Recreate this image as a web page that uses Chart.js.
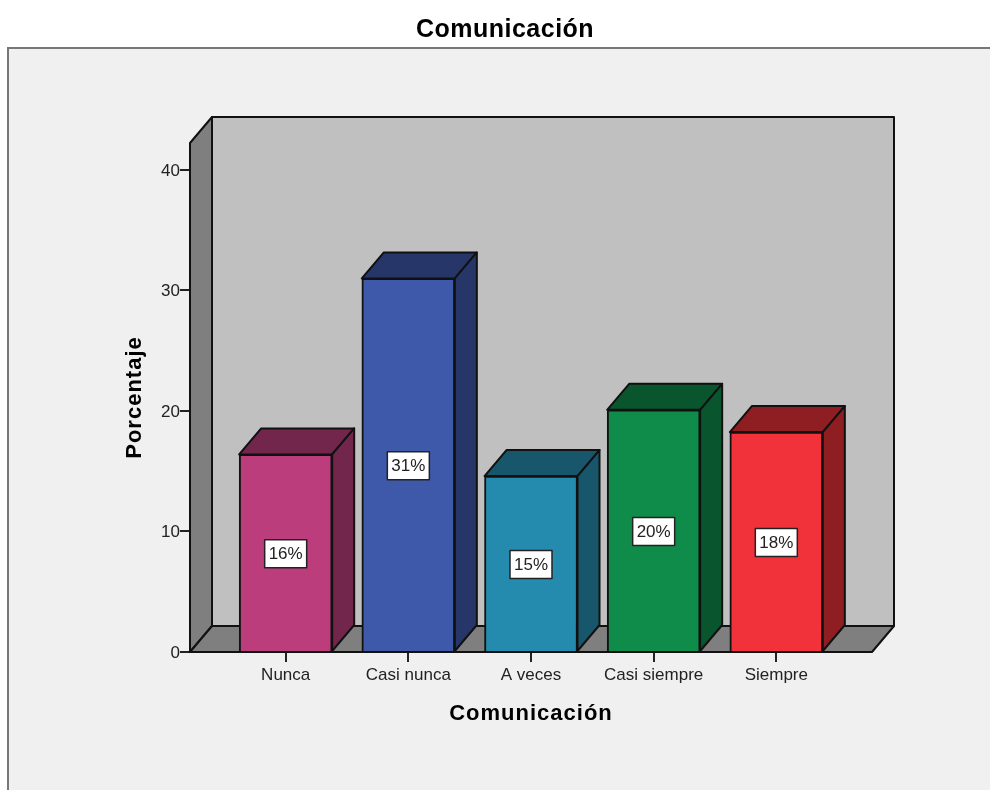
<!DOCTYPE html>
<html>
<head>
<meta charset="utf-8">
<style>
  html, body { margin: 0; padding: 0; background: #fff; }
  canvas { display: block; }
</style>
<script src="https://cdn.jsdelivr.net/npm/chart.js@4"></script>
</head>
<body>
<canvas id="chart" width="990" height="790"></canvas>
<script>
const categories = ['Nunca', 'Casi nunca', 'A veces', 'Casi siempre', 'Siempre']
const percentages = [16.4, 31.0, 14.6, 20.1, 18.25]
const barLabels = ['16%', '31%', '15%', '20%', '18%']
const yTicks = [0, 10, 20, 30, 40]
const frontColors = ['#bb3d7c', '#3e58aa', '#248bae', '#0f8c4a', '#f2323a']
const shadeColors = ['#72264c', '#263669', '#17566b', '#09562e', '#8f1e23']

const DEPTH_X = 22
const DEPTH_Y = -26

function poly(ctx, pts, fill) {
  ctx.beginPath()
  pts.forEach((p, i) => (i ? ctx.lineTo(p[0], p[1]) : ctx.moveTo(p[0], p[1])))
  ctx.closePath()
  ctx.fillStyle = fill
  ctx.fill()
  ctx.stroke()
}

// the reference titles are slightly letter-spaced, Chart.js has no option for it
function spaced(ctx, obj, method, spacing) {
  const draw = obj[method]
  obj[method] = function (...args) {
    ctx.letterSpacing = spacing
    draw.apply(this, args)
    ctx.letterSpacing = '0px'
  }
}

// SPSS style box behind the bars, and the panel behind everything
const boxPlugin = {
  id: 'box',
  afterLayout(chart) {
    chart.titleBlock.left += 8
    chart.titleBlock.right += 8
    spaced(chart.ctx, chart.titleBlock, 'draw', '0.5px')
    spaced(chart.ctx, chart.scales.x, 'drawTitle', '1px')
    spaced(chart.ctx, chart.scales.y, 'drawTitle', '1px')
  },
  beforeDraw(chart) {
    const { ctx, width, height } = chart
    ctx.save()
    ctx.fillStyle = '#f0f0f0'
    ctx.fillRect(8, 48, width - 8, height - 48)
    ctx.strokeStyle = '#777'
    ctx.lineWidth = 2
    ctx.beginPath()
    ctx.moveTo(8, height)
    ctx.lineTo(8, 48)
    ctx.lineTo(width, 48)
    ctx.stroke()
    ctx.restore()
  },
  beforeDatasetsDraw(chart) {
    const { ctx, chartArea: a } = chart
    const dx = DEPTH_X, dy = DEPTH_Y
    ctx.save()
    ctx.strokeStyle = '#111'
    ctx.lineWidth = 2
    ctx.lineJoin = 'round'
    poly(ctx, [[a.left + dx, a.top + dy], [a.right + dx, a.top + dy], [a.right + dx, a.bottom + dy], [a.left + dx, a.bottom + dy]], '#c0c0c0')
    poly(ctx, [[a.left, a.top], [a.left + dx, a.top + dy], [a.left + dx, a.bottom + dy], [a.left, a.bottom]], '#7f7f7f')
    poly(ctx, [[a.left, a.bottom], [a.left + dx, a.bottom + dy], [a.right + dx, a.bottom + dy], [a.right, a.bottom]], '#7f7f7f')
    ctx.restore()
  },
  afterDatasetsDraw(chart) {
    const { ctx } = chart
    const dx = DEPTH_X, dy = DEPTH_Y
    const bars = chart.getDatasetMeta(0).data
    ctx.save()
    ctx.strokeStyle = '#111'
    ctx.lineWidth = 2
    ctx.lineJoin = 'round'
    bars.forEach((bar, i) => {
      const l = bar.x - bar.width / 2, r = bar.x + bar.width / 2
      poly(ctx, [[l, bar.y], [l + dx, bar.y + dy], [r + dx, bar.y + dy], [r, bar.y]], shadeColors[i])
      poly(ctx, [[r, bar.y], [r + dx, bar.y + dy], [r + dx, bar.base + dy], [r, bar.base]], shadeColors[i])
    })
    // value boxes in the middle of each front face
    ctx.font = '17px "Liberation Sans"'
    ctx.textAlign = 'center'
    ctx.textBaseline = 'middle'
    bars.forEach((bar, i) => {
      const my = (bar.y + bar.base) / 2 + 1
      ctx.fillStyle = '#fff'
      ctx.strokeStyle = '#222'
      ctx.lineWidth = 1.5
      ctx.fillRect(bar.x - 21, my - 14, 42, 28)
      ctx.strokeRect(bar.x - 21, my - 14, 42, 28)
      ctx.fillStyle = '#222'
      ctx.fillText(barLabels[i], bar.x, my + 1)
    })
    // front edges on top of the bars
    const a = chart.chartArea
    ctx.strokeStyle = '#111'
    ctx.lineWidth = 2
    ctx.beginPath()
    ctx.moveTo(a.left, a.top)
    ctx.lineTo(a.left, a.bottom)
    ctx.lineTo(a.right, a.bottom)
    ctx.stroke()
    ctx.restore()
  },
}

new Chart(document.getElementById('chart'), {
  type: 'bar',
  data: {
    datasets: [{
      data: percentages.map((v, i) => ({ x: i, y: v })),
      backgroundColor: frontColors,
      borderColor: '#111',
      borderWidth: 2,
      barThickness: 93,
    }],
  },
  plugins: [boxPlugin],
  options: {
    responsive: false,
    animation: false,
    layout: { padding: { left: 122, right: 118, top: 0, bottom: 0 } },
    plugins: {
      legend: { display: false },
      tooltip: { enabled: false },
      title: {
        display: true,
        text: 'Comunicación',
        color: '#000',
        font: { family: 'Liberation Sans', size: 25, weight: 'bold' },
        padding: { top: 15, bottom: 98 },
      },
    },
    scales: {
      x: {
        type: 'linear',
        offset: false,
        bounds: 'data',
        min: -0.78,
        max: 4.78,
        afterBuildTicks: (s) => { s.ticks = categories.map((c, i) => ({ value: i })) },
        afterFit: (s) => { s.height = 138 },
        grid: { display: true, offset: false, drawOnChartArea: false, drawTicks: true, tickLength: 10, color: '#222', lineWidth: 2 },
        border: { display: false },
        ticks: {
          autoSkip: false,
          maxRotation: 0,
          padding: 3,
          color: '#222',
          font: { family: 'Liberation Sans', size: 17 },
          callback: (v) => categories[v],
        },
        title: {
          display: true,
          text: 'Comunicación',
          color: '#000',
          font: { family: 'Liberation Sans', size: 22, weight: 'bold' },
          padding: { top: 0, bottom: 63 },
        },
      },
      y: {
        min: 0,
        max: 42.24,
        afterBuildTicks: (s) => { s.ticks = yTicks.map((v) => ({ value: v })) },
        afterFit: (s) => { s.width = 68 },
        grid: { display: true, drawOnChartArea: false, drawTicks: true, tickLength: 10, color: '#222', lineWidth: 2 },
        border: { display: false },
        ticks: {
          padding: 0,
          labelOffset: 1,
          color: '#222',
          font: { family: 'Liberation Sans', size: 17 },
        },
        title: {
          display: true,
          text: 'Porcentaje',
          color: '#000',
          font: { family: 'Liberation Sans', size: 22, weight: 'bold' },
          padding: { top: 0, bottom: 0 },
        },
      },
    },
  },
})
</script>
</body>
</html>
